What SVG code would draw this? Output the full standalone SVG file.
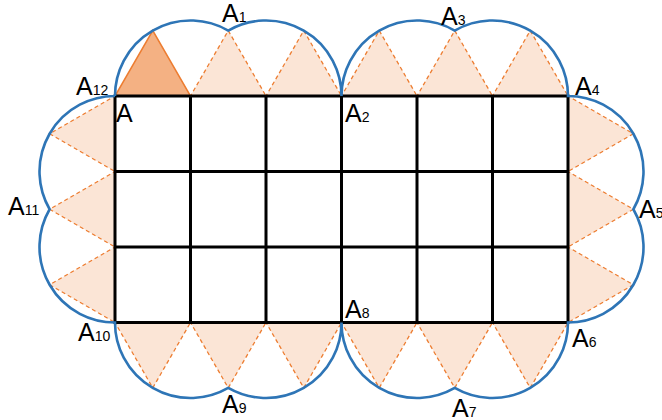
<svg xmlns="http://www.w3.org/2000/svg" width="662" height="420" viewBox="0 0 662 420">
<style>
.tri{fill:#fbe5d6;stroke:#ed7d31;stroke-width:1.3;stroke-dasharray:4 3}
.tri-dark{fill:#f4b183;stroke:#ed7d31;stroke-width:1.5}
.grid{fill:none;stroke:#000;stroke-width:3}
.arc{fill:none;stroke:#2e75b6;stroke-width:2.6}
.lbl{font-family:"Liberation Sans",Arial,sans-serif;font-size:25px;fill:#000}
.sub{font-size:14px}
</style>
<rect width="662" height="420" fill="#fff"/>
<g id="triangles">
<polygon class="tri" points="190.5,96 266,96 228.25,30.62"/>
<polygon class="tri" points="266,96 341.5,96 303.75,30.62"/>
<polygon class="tri" points="341.5,96 417,96 379.25,30.62"/>
<polygon class="tri" points="417,96 492.5,96 454.75,30.62"/>
<polygon class="tri" points="492.5,96 568,96 530.25,30.62"/>
<polygon class="tri" points="115,322.5 190.5,322.5 152.75,387.88"/>
<polygon class="tri" points="190.5,322.5 266,322.5 228.25,387.88"/>
<polygon class="tri" points="266,322.5 341.5,322.5 303.75,387.88"/>
<polygon class="tri" points="341.5,322.5 417,322.5 379.25,387.88"/>
<polygon class="tri" points="417,322.5 492.5,322.5 454.75,387.88"/>
<polygon class="tri" points="492.5,322.5 568,322.5 530.25,387.88"/>
<polygon class="tri" points="115,96 115,171.5 49.62,133.75"/>
<polygon class="tri" points="115,171.5 115,247 49.62,209.25"/>
<polygon class="tri" points="115,247 115,322.5 49.62,284.75"/>
<polygon class="tri" points="568,96 568,171.5 633.38,133.75"/>
<polygon class="tri" points="568,171.5 568,247 633.38,209.25"/>
<polygon class="tri" points="568,247 568,322.5 633.38,284.75"/>
<polygon id="tri-A" class="tri-dark" points="115,96 190.5,96 152.75,30.62"/>
</g>
<g id="grid">
<rect class="grid" x="115" y="96" width="453" height="226.5"/>
<path class="grid" d="M190.5,96V322.5M266,96V322.5M341.5,96V322.5M417,96V322.5M492.5,96V322.5M115,171.5H568M115,247H568"/>
</g>
<g id="arcs">
<path class="arc" d="M115,96A75.5,75.5 0 0 1 228.25,30.62A75.5,75.5 0 0 1 341.5,96A75.5,75.5 0 0 1 454.75,30.62A75.5,75.5 0 0 1 568,96A75.5,75.5 0 0 1 633.38,209.25A75.5,75.5 0 0 1 568,322.5A75.5,75.5 0 0 1 454.75,387.88A75.5,75.5 0 0 1 341.5,322.5A75.5,75.5 0 0 1 228.25,387.88A75.5,75.5 0 0 1 115,322.5A75.5,75.5 0 0 1 49.62,209.25A75.5,75.5 0 0 1 115,96"/>
</g>
<g id="labels">
<text class="lbl" x="222" y="21.5">A<tspan class="sub">1</tspan></text>
<text class="lbl" x="441" y="25">A<tspan class="sub">3</tspan></text>
<text class="lbl" x="76" y="95">A<tspan class="sub">12</tspan></text>
<text class="lbl" x="575" y="95">A<tspan class="sub">4</tspan></text>
<text class="lbl" x="116" y="122">A</text>
<text class="lbl" x="345" y="122">A<tspan class="sub">2</tspan></text>
<text class="lbl" x="8" y="215">A<tspan class="sub">11</tspan></text>
<text class="lbl" x="639" y="218">A<tspan class="sub">5</tspan></text>
<text class="lbl" x="345" y="318">A<tspan class="sub">8</tspan></text>
<text class="lbl" x="78" y="341">A<tspan class="sub">10</tspan></text>
<text class="lbl" x="572" y="347">A<tspan class="sub">6</tspan></text>
<text class="lbl" x="222" y="413">A<tspan class="sub">9</tspan></text>
<text class="lbl" x="452" y="417">A<tspan class="sub">7</tspan></text>
</g>
</svg>
